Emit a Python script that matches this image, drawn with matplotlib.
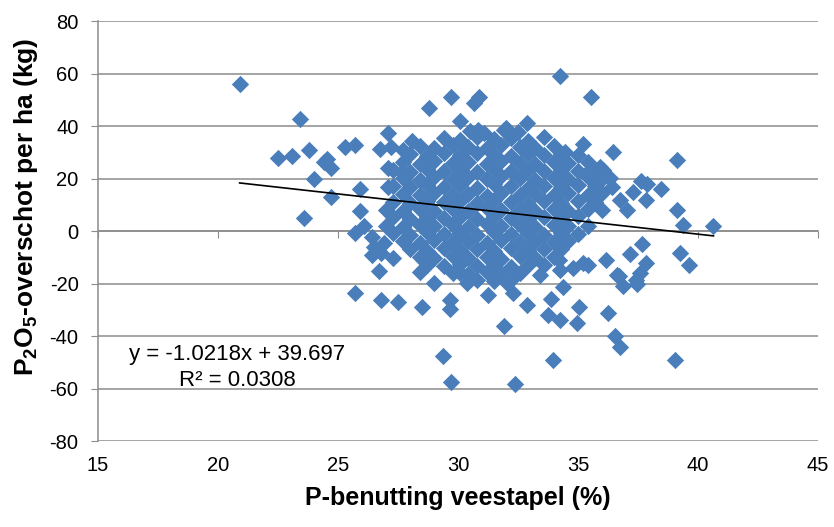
import matplotlib.pyplot as plt

plt.rcParams['font.family'] = ['Liberation Sans', 'DejaVu Sans']
plt.rcParams['mathtext.fontset'] = 'custom'
plt.rcParams['mathtext.rm'] = 'Liberation Sans'
plt.rcParams['mathtext.bf'] = 'Liberation Sans:bold'
plt.rcParams['axes.unicode_minus'] = False

# loose points around the cloud
x_loose = [20.9, 23.4, 22.5, 23.1, 23.8, 24.0, 24.7, 23.6, 24.4, 24.7, 24.55, 25.3, 25.7,
           25.9, 25.9, 25.7, 26.1, 26.4, 26.4, 26.8, 26.7, 25.7, 26.8, 27.5, 27.1, 26.75,
           27.2, 27.7, 27.1, 27.1, 27.65, 28.07, 27.3, 28.4, 29.0, 28.5, 29.67, 29.67,
           29.36, 29.69, 32.38, 33.97, 39.04, 31.9, 36.54, 36.75, 36.25, 34.94, 34.25,
           33.75, 35.05, 33.88, 31.26, 32.86, 34.36, 36.86, 37.47, 37.83, 37.58, 36.61,
           39.25, 39.64, 36.15, 37.17, 34.8, 35.43, 34.25, 32.03, 32.3, 33.42, 30.36,
           30.1, 37.65, 36.7, 37.4, 26.5, 26.9, 34.2, 35.2,
           34.25, 35.54, 29.7, 30.89, 30.67, 28.79, 30.08, 32.86, 32.0, 30.85, 35.22,
           36.47, 34.46, 39.11, 37.86, 38.46, 37.83, 37.3, 37.03, 39.11, 39.36, 40.64,
           36.05, 36.33, 35.5, 35.9, 36.75, 37.6]
y_loose = [56.0, 42.8, 27.7, 28.6, 30.9, 19.8, 12.8, 5.0, 26.4, 23.9, 27.3, 31.9, 32.8,
           16.0, 7.7, -0.9, 2.0, -2.2, -9.1, -8.3, -15.1, -23.7, -26.3, -26.9, 37.2, 31.1,
           32.1, 30.9, 23.9, 16.8, 22.6, 34.4, -10.4, -15.5, -19.9, -29.1, -26.3, -29.5,
           -47.4, -57.3, -58.3, -49.1, -49.1, -36.0, -40.0, -44.3, -31.1, -35.2, -34.0,
           -32.0, -29.1, -26.0, -24.2, -28.2, -21.2, -21.0, -20.2, -12.2, -16.1, -16.8,
           -8.2, -13.1, -11.2, -8.8, -14.2, -12.9, -14.9, -19.9, -23.6, -16.8, -19.9,
           -16.0, -5.0, -17.0, -18.7, -6.0, -4.6, -11.0, -12.3,
           59.0, 50.9, 50.9, 51.2, 48.9, 46.7, 41.9, 41.0, 39.1, 38.5, 33.0,
           30.0, 30.2, 27.0, 17.9, 15.9, 11.8, 15.0, 8.0, 8.0, 2.3, 2.0,
           23.2, 20.1, 23.2, 24.5, 11.8, 19.0]

# dense cloud, row by row from top to bottom
x_cloud = [30.5, 31.1, 31.9, 32.5,
           29.4, 30.1, 30.8, 31.5, 32.2, 32.9, 33.6,
           28.4, 29.0, 29.8, 30.4, 31.2, 31.8, 32.6, 33.2, 34.0,
           28.0, 28.7, 29.4, 30.1, 30.8, 31.5, 32.2, 32.9, 33.6, 34.3, 35.0,
           27.7, 28.4, 29.0, 29.8, 30.4, 31.2, 31.8, 32.6, 33.2, 34.0, 34.6, 35.4,
           27.3, 28.0, 28.7, 29.4, 30.1, 30.8, 31.5, 32.2, 32.9, 33.6, 34.3, 35.0, 35.7,
           27.7, 28.4, 29.0, 29.8, 30.4, 31.2, 31.8, 32.6, 33.2, 34.0, 34.6, 35.4, 36.0,
           27.3, 28.0, 28.7, 29.4, 30.1, 30.8, 31.5, 32.2, 32.9, 33.6, 34.3, 35.0, 35.7, 36.4,
           27.7, 28.4, 29.0, 29.8, 30.4, 31.2, 31.8, 32.6, 33.2, 34.0, 34.6, 35.4, 36.0,
           27.3, 28.0, 28.7, 29.4, 30.1, 30.8, 31.5, 32.2, 32.9, 33.6, 34.3, 35.0, 35.7,
           27.0, 27.7, 28.4, 29.0, 29.8, 30.4, 31.2, 31.8, 32.6, 33.2, 34.0, 34.6, 35.4, 36.0,
           27.3, 28.0, 28.7, 29.4, 30.1, 30.8, 31.5, 32.2, 32.9, 33.6, 34.3, 35.0,
           27.0, 27.7, 28.4, 29.0, 29.8, 30.4, 31.2, 31.8, 32.6, 33.2, 34.0, 34.6, 35.4,
           27.3, 28.0, 28.7, 29.4, 30.1, 30.8, 31.5, 32.2, 32.9, 33.6, 34.3, 35.0,
           27.7, 28.4, 29.0, 29.8, 30.4, 31.2, 31.8, 32.6, 33.2, 34.0, 34.6,
           28.0, 28.7, 29.4, 30.1, 30.8, 31.5, 32.2, 32.9, 33.6, 34.3,
           28.4, 29.0, 29.8, 30.4, 31.2, 31.8, 32.6, 33.2, 34.0,
           28.7, 29.4, 30.1, 30.8, 31.5, 32.2, 32.9, 33.6,
           29.8, 30.4, 31.2, 31.8, 32.6,
           30.8, 31.5, 32.2]
y_cloud = [38.2, 37.5, 38.6, 37.9,
           35.3, 34.6, 35.8, 34.9, 35.5, 34.4, 35.9,
           32.4, 31.8, 32.9, 32.1, 31.6, 32.7, 32.0, 31.5, 32.3,
           29.3, 28.7, 29.6, 28.9, 29.8, 29.1, 28.6, 29.4, 28.8, 29.5, 28.9,
           26.2, 25.7, 26.6, 25.9, 26.4, 25.6, 26.8, 26.1, 25.5, 26.3, 25.8, 26.5,
           23.1, 22.6, 23.5, 22.8, 23.3, 22.5, 23.7, 22.9, 23.2, 22.7, 23.4, 22.8, 23.0,
           20.3, 19.6, 20.7, 19.9, 20.5, 19.7, 20.9, 20.1, 19.5, 20.4, 19.8, 20.6, 19.9,
           17.2, 16.7, 17.5, 16.9, 17.4, 16.6, 17.8, 17.0, 16.5, 17.3, 16.8, 17.6, 17.1, 16.9,
           14.1, 13.6, 14.5, 13.8, 14.3, 13.5, 14.7, 13.9, 14.2, 13.7, 14.4, 13.8, 14.6,
           11.2, 10.7, 11.5, 10.9, 11.3, 10.6, 11.7, 11.0, 10.5, 11.4, 10.8, 11.6, 11.1,
           8.1, 7.6, 8.5, 7.8, 8.3, 7.5, 8.7, 7.9, 8.2, 7.7, 8.4, 7.8, 8.6, 8.0,
           5.2, 4.7, 5.5, 4.9, 5.3, 4.6, 5.7, 5.0, 4.5, 5.4, 4.8, 5.6,
           2.1, 1.6, 2.5, 1.8, 2.3, 1.5, 2.7, 1.9, 2.2, 1.7, 2.4, 1.8, 2.0,
           -0.9, -1.4, -0.5, -1.2, -0.7, -1.5, -0.3, -1.1, -0.8, -1.3, -0.6, -1.2,
           -3.9, -4.4, -3.5, -4.2, -3.7, -4.5, -3.3, -4.1, -3.8, -4.3, -3.6,
           -6.9, -7.4, -6.5, -7.2, -6.7, -7.5, -6.3, -7.1, -6.8, -7.0,
           -9.9, -10.4, -9.5, -10.2, -9.7, -10.5, -9.3, -10.1, -9.8,
           -12.8, -13.4, -12.5, -13.2, -12.7, -13.5, -12.9, -13.1,
           -15.8, -16.3, -15.6, -16.1, -15.9,
           -18.8, -19.2, -18.6]

slope = -1.0218
intercept = 39.697
r2 = 0.0308

x_ticks = [15, 20, 25, 30, 35, 40, 45]
y_ticks = [-80, -60, -40, -20, 0, 20, 40, 60, 80]

x_all = x_loose + x_cloud
y_all = y_loose + y_cloud

grid_col = '#8C8C8C'
fig = plt.figure(figsize=(8.34, 5.27), dpi=100)
ax = fig.add_axes([0.1175, 0.163, 0.8635, 0.797])

ax.scatter(x_all, y_all, marker='D', s=78, color='#4A7EBB', linewidths=0, zorder=3)

x_line = [min(x_all), max(x_all)]
y_line = [slope * v + intercept for v in x_line]
ax.plot(x_line, y_line, color='black', lw=1.2, zorder=4)

ax.set_xlim(15, 45)
ax.set_ylim(-80, 80)
ax.set_xticks(x_ticks)
ax.set_yticks(y_ticks)
ax.yaxis.grid(True, color=grid_col, lw=1.1)
ax.set_axisbelow(True)

for side in ['top', 'right']:
    ax.spines[side].set_visible(False)
ax.spines['left'].set_color(grid_col)
ax.spines['left'].set_linewidth(1.1)
ax.spines['bottom'].set_position(('data', 0))
ax.spines['bottom'].set_color(grid_col)
ax.spines['bottom'].set_linewidth(1.1)

ax.tick_params(axis='x', direction='out', length=5, color=grid_col, labelbottom=False)
ax.tick_params(axis='y', direction='out', length=5, color=grid_col, labelsize=14.5, pad=9)

sec = ax.secondary_xaxis(0.0)
sec.set_xticks(x_ticks)
sec.tick_params(length=0, labelsize=14.5, pad=11)
sec.spines['bottom'].set_visible(False)
sec.set_xlabel('P-benutting veestapel (%)', fontsize=18, fontweight='bold', labelpad=8)

ax.set_ylabel(r'P$_\mathbf{2}$O$_\mathbf{5}$-overschot per ha (kg)', fontsize=19, fontweight='bold')
ax.yaxis.set_label_coords(-0.081, 0.557)

ax.text(20.8, -47.2, f'y = {slope}x + {intercept}', fontsize=16, ha='center', va='center')
ax.text(20.8, -56.8, f'R² = {r2}', fontsize=16, ha='center', va='center')

fig.savefig('out.png', dpi=100)
